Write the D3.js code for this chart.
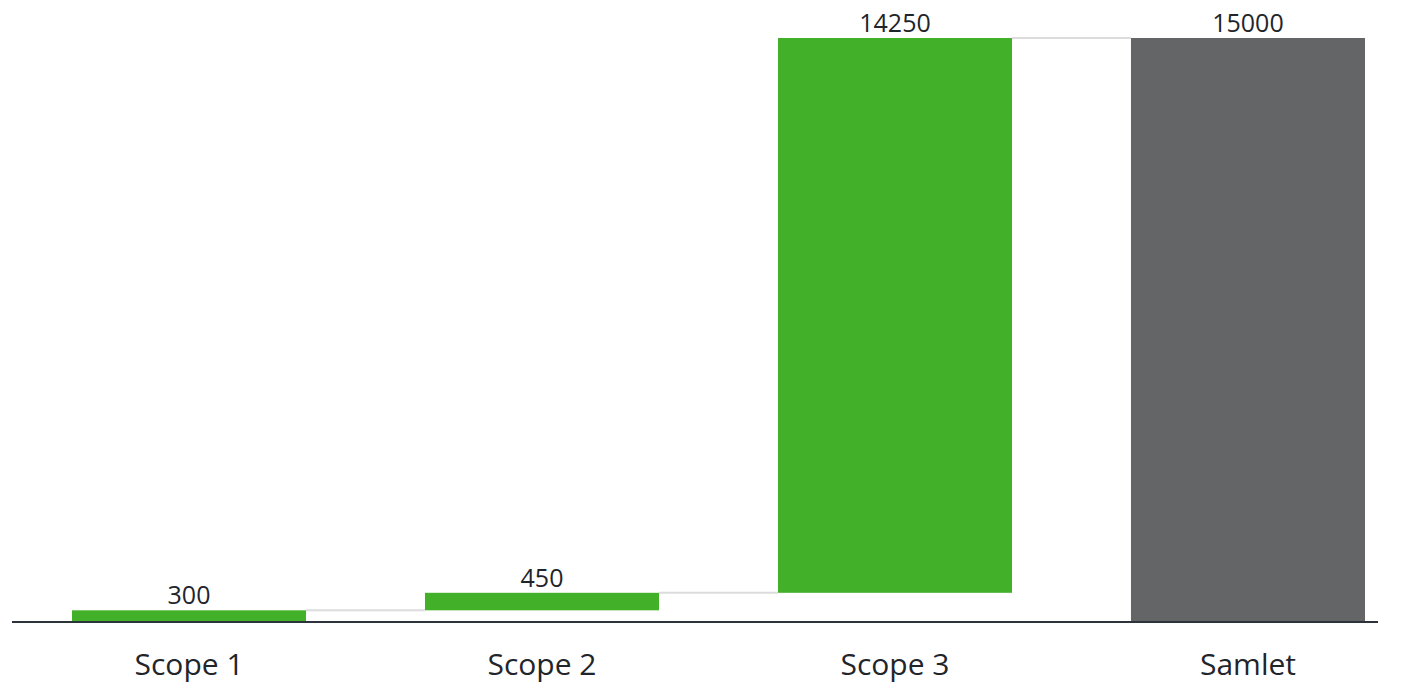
<!DOCTYPE html>
<html>
<head>
<meta charset="utf-8">
<script src="https://cdn.jsdelivr.net/npm/d3@7"></script>
<style>
  body { margin: 0; background: #fff; }
  text { font-family: "Open Sans", "Noto Sans", sans-serif; fill: #1f252b; }
</style>
</head>
<body>
<div id="chart"></div>
<script>
var categories = ["Scope 1", "Scope 2", "Scope 3", "Samlet"];
var values = [300, 450, 14250, 15000];
var isTotal = [false, false, false, true];

var width = 1405, height = 684;
var margin = { top: 38, bottom: 62 };
var h = height - margin.top - margin.bottom;

var svg = d3.select("#chart").append("svg")
    .attr("width", width)
    .attr("height", height);

var g = svg.append("g")
    .attr("transform", "translate(0," + margin.top + ")");

// running start/end for waterfall
var running = 0;
var rows = categories.map(function (c, i) {
    var start, end;
    if (isTotal[i]) { start = 0; end = values[i]; running = values[i]; }
    else { start = running; end = running + values[i]; running = end; }
    return { cat: c, value: values[i], start: start, end: end, total: isTotal[i] };
});

var x = d3.scaleBand().domain(categories).range([72, 1365]).paddingInner(0.337).paddingOuter(0);
var y = d3.scaleLinear().domain([0, 15000]).range([h, 0]);

// connectors
g.selectAll("line.conn")
    .data(rows.slice(0, -1))
    .enter().append("line")
    .attr("class", "conn")
    .attr("x1", function (d) { return x(d.cat) + x.bandwidth(); })
    .attr("x2", function (d, i) { return x(rows[i + 1].cat); })
    .attr("y1", function (d) { return y(d.end); })
    .attr("y2", function (d) { return y(d.end); })
    .attr("stroke", "#dcdcdc")
    .attr("stroke-width", 2);

g.selectAll("rect.bar")
    .data(rows)
    .enter().append("rect")
    .attr("class", "bar")
    .attr("x", function (d) { return x(d.cat); })
    .attr("width", x.bandwidth())
    .attr("y", function (d) { return y(d.end); })
    .attr("height", function (d) { return y(d.start) - y(d.end); })
    .attr("fill", function (d) { return d.total ? "#646567" : "#43b02a"; });

g.selectAll("text.val")
    .data(rows)
    .enter().append("text")
    .attr("class", "val")
    .attr("x", function (d) { return x(d.cat) + x.bandwidth() / 2; })
    .attr("y", function (d) { return y(d.end) - 6; })
    .attr("text-anchor", "middle")
    .style("font-size", "25px")
    .text(function (d) { return d.value; });

// x axis
var axis = g.append("g")
    .attr("transform", "translate(0," + h + ")")
    .call(d3.axisBottom(x).tickSize(0).tickPadding(32));
axis.select(".domain").remove();
axis.append("line")
    .attr("x1", 12).attr("x2", 1378)
    .attr("stroke", "#2d333a").attr("stroke-width", 2);
axis.selectAll(".tick text")
    .style("font-size", "30px")
    .style("fill", "#1f252b");
</script>
</body>
</html>
